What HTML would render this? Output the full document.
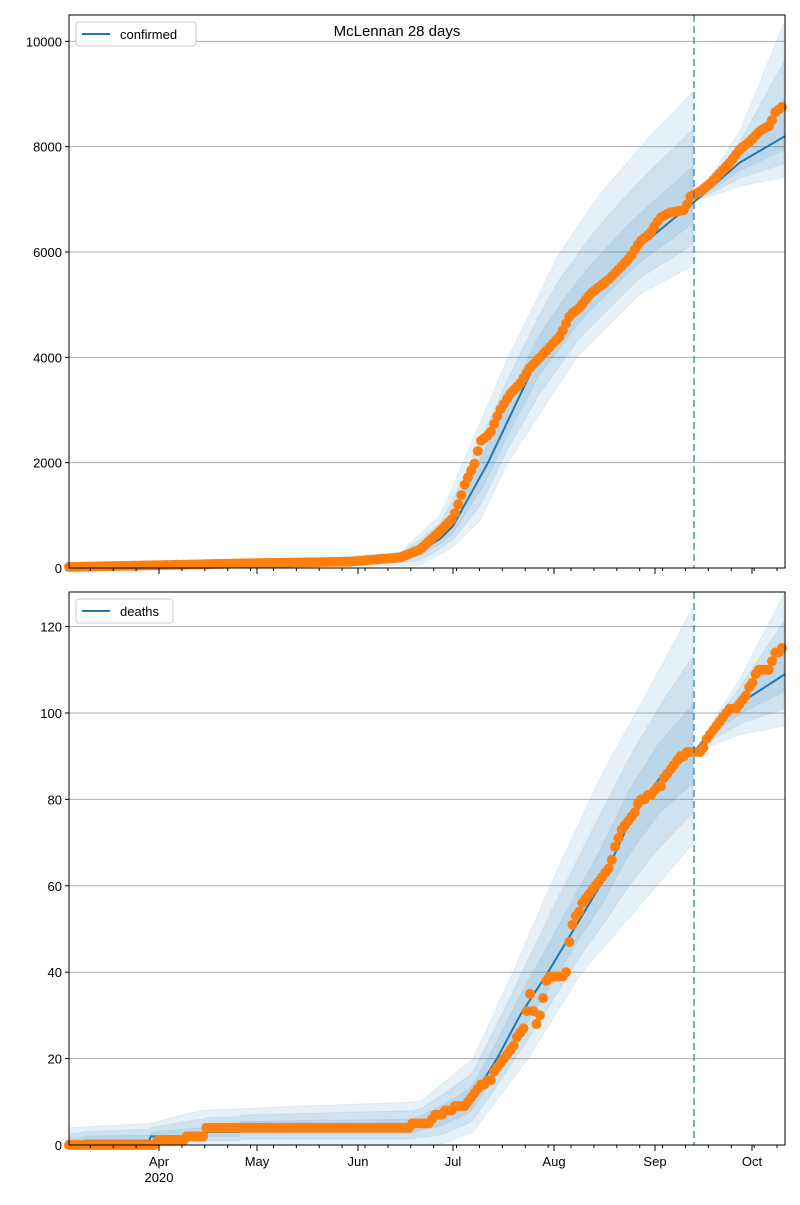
<!DOCTYPE html>
<html><head><meta charset="utf-8"><style>
body{margin:0;background:#fff;font-family:"Liberation Sans","DejaVu Sans",sans-serif}
svg text{font-family:"Liberation Sans","DejaVu Sans",sans-serif;font-size:13px;fill:#000}
</style></head><body>
<svg id="s" width="800" height="1200" xmlns="http://www.w3.org/2000/svg">
<text x="397" y="36" text-anchor="middle" font-size="15" style="font-size:15px">McLennan 28 days</text>
</svg>
<script>
const S=document.getElementById('s');const NS='http://www.w3.org/2000/svg';
function el(t,a,txt){const e=document.createElementNS(NS,t);for(const k in a)e.setAttribute(k,a[k]);if(txt!==undefined)e.textContent=txt;S.appendChild(e);return e;}
function interp(pts,x){if(x<=pts[0][0])return pts[0][1];for(let i=1;i<pts.length;i++){if(x<=pts[i][0]){const a=pts[i-1],b=pts[i];return a[1]+(b[1]-a[1])*(x-a[0])/(b[0]-a[0]);}}return pts[pts.length-1][1];}
const X0=69,X1=785,DASH=694,STEP=3.27;
function panel(top,bot,vmax,ticks,lineP,dotP,loP,hiP,loP2,hiP2,label,lw,step){
 const Y=v=>bot-(v/vmax)*(bot-top);
 ticks.forEach(t=>{el('line',{x1:X0,x2:X1,y1:Y(t),y2:Y(t),stroke:'#b0b0b0','stroke-width':1});
  el('line',{x1:X0-4,x2:X0,y1:Y(t),y2:Y(t),stroke:'#000'});
  el('text',{x:X0-7,y:Y(t)+5,'text-anchor':'end'},String(t));});
 const fr=[1,0.66,0.33];
 fr.forEach(f=>{
  const seg=(a,b,lo,hi)=>{const u=[],d=[];for(let x=a;x<=b;x+=2){const c=interp(lineP,x);u.push([x,c+(interp(hi,x)-c)*f]);d.push([x,c-(c-interp(lo,x))*f]);}
   return 'M'+u.map(p=>p[0]+','+Y(p[1]).toFixed(1)).join(' L')+' L'+d.reverse().map(p=>p[0]+','+Y(p[1]).toFixed(1)).join(' L')+'Z';};
  el('path',{d:seg(X0,DASH,loP,hiP),fill:'#1f77b4','fill-opacity':0.11,stroke:'#1f77b4','stroke-opacity':0.08});
  el('path',{d:seg(DASH,X1,loP2,hiP2),fill:'#1f77b4','fill-opacity':0.11,stroke:'#1f77b4','stroke-opacity':0.08});
 });
 let d='';for(let x=X0;x<=X1;x+=2)d+=(d?'L':'M')+x+','+Y(interp(lineP,x)).toFixed(1);
 el('path',{d:d,fill:'none',stroke:'#1f77b4','stroke-width':2});
 for(let x=X0;x<=X1-2;x+=STEP){let v=interp(dotP,x);if(step)v=Math.round(v);el('circle',{cx:x,cy:Y(v),r:5,fill:'#ff7f0e'});}
 el('line',{x1:DASH,x2:DASH,y1:top,y2:bot,stroke:'#1f77b4','stroke-opacity':0.6,'stroke-width':2,'stroke-dasharray':'7,4'});
 el('rect',{x:X0,y:top,width:X1-X0,height:bot-top,fill:'none',stroke:'#000','stroke-width':1});
 const maj=[159,257,358,453,554,655,752];
 maj.forEach(x=>el('line',{x1:x,x2:x,y1:bot,y2:bot+6,stroke:'#000'}));
 for(let x=159-7*STEP*3;x<X1;x+=7*STEP)if(x>X0)el('line',{x1:x,x2:x,y1:bot,y2:bot+3,stroke:'#000'});
 el('rect',{x:76,y:top+7,width:lw,height:24,rx:3,fill:'#fff',stroke:'#ccc'});
 el('line',{x1:82,x2:110,y1:top+19,y2:top+19,stroke:'#1f77b4','stroke-width':2});
 el('text',{x:120,y:top+24},label);
}
panel(15,568,10500,[0,2000,4000,6000,8000,10000],
 [[69,0],[300,100],[390,170],[420,330],[440,550],[453,800],[488,2000],[538,4000],[585,5100],[630,5950],[694,6950],[740,7700],[785,8200]],
 [[69,20],[150,50],[250,90],[350,120],[400,200],[420,350],[440,700],[453,950],[460,1300],[465,1600],[475,2000],[480,2400],[490,2550],[500,3000],[510,3300],[520,3500],[530,3800],[540,4000],[550,4200],[560,4400],[570,4800],[580,4950],[590,5200],[600,5350],[610,5500],[620,5700],[630,5900],[640,6200],[650,6350],[660,6650],[670,6750],[685,6800],[690,7050],[700,7150],[710,7300],[720,7500],[730,7700],[740,7950],[750,8100],[760,8300],[770,8400],[775,8650],[785,8800]],
 [[69,0],[420,50],[453,400],[480,900],[508,2000],[577,4000],[640,5200],[694,5750]],
 [[69,30],[300,150],[400,300],[440,1000],[463,2000],[508,4000],[560,6000],[600,7100],[650,8200],[694,9060]],
 [[694,6950],[740,7250],[785,7420]],
 [[694,6950],[740,8300],[785,10400]],'confirmed',120,false);
panel(592,1145,128,[0,20,40,60,80,100,120],
 [[69,0],[84,0.5],[85,1],[149,1],[150,2],[205,2],[206,3],[240,3],[241,4],[410,4],[420,5],[445,7],[470,10],[497,20],[520,30],[548,40],[600,60],[630,75],[660,85],[694,91],[720,98],[745,103],[785,109]],
 [[69,0],[154,0],[155,1],[184,1],[185,2],[204,2],[205,4],[409,4],[410,5],[429,5],[430,6],[450,8],[458,9],[466,9],[470,11],[478,13],[490,15],[495,17],[505,20],[515,24],[525,28],[530,35],[536,27],[542,32],[545,37],[550,39],[565,39],[568,43],[570,49],[575,52],[580,55],[588,58],[595,60],[603,62],[610,65],[615,69],[620,72],[627,75],[635,77],[640,80],[650,81],[660,83],[665,85],[672,88],[680,90],[690,91],[700,91],[705,93],[712,96],[722,99],[730,101],[735,101],[742,103],[750,106],[758,110],[770,110],[775,114],[785,115]],
 [[69,0],[440,0],[473,3],[528,20],[582,40],[657,60],[694,70]],
 [[69,4],[150,5],[200,8],[300,9],[420,10],[473,20],[513,40],[550,60],[600,85],[650,106],[694,125]],
 [[694,91],[740,95],[785,97]],
 [[694,91],[740,108],[785,128]],'deaths',97,true);
const ml=[[159,'Apr'],[257,'May'],[358,'Jun'],[453,'Jul'],[554,'Aug'],[655,'Sep'],[752,'Oct']];
ml.forEach(m=>el('text',{x:m[0],y:1166,'text-anchor':'middle'},m[1]));
el('text',{x:159,y:1182,'text-anchor':'middle'},'2020');
</script>
</body></html>
